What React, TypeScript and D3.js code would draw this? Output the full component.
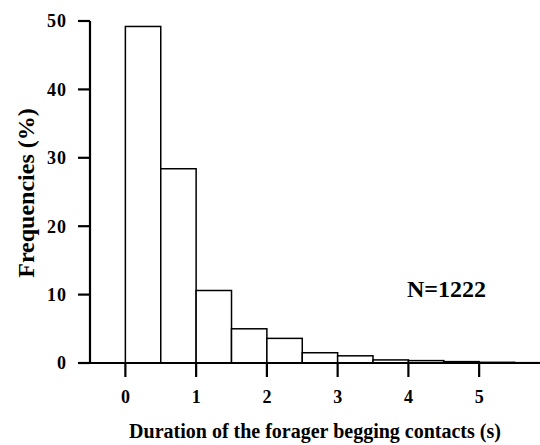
import { scaleLinear } from 'd3'

const binStarts = [-0.5, 0, 0.5, 1, 1.5, 2, 2.5, 3, 3.5, 4, 4.5, 5, 5.5]
const frequencies = [0, 49.2, 28.4, 10.6, 5.0, 3.6, 1.5, 1.05, 0.45, 0.35, 0.2, 0.1, 0.05]
const binWidth = 0.5
const xTicks = [0, 1, 2, 3, 4, 5]
const yTicks = [0, 10, 20, 30, 40, 50]

const width = 540
const height = 445
const font = "'Liberation Serif', 'Times New Roman', serif"

const x = scaleLinear().domain([-0.5, 5.86]).range([90, 540])
const y = scaleLinear().domain([0, 50]).range([363, 21])

function App() {
  return (
    <svg
      width={width}
      height={height}
      style={{ position: 'absolute', left: 0, top: 0, background: '#fff' }}
      fontFamily={font}
      fontWeight="bold"
    >
      {binStarts.map((b, i) => (
        <rect
          key={b}
          x={x(b)}
          y={y(frequencies[i])}
          width={x(b + binWidth) - x(b)}
          height={y(0) - y(frequencies[i])}
          fill="#fff"
          stroke="#000"
          strokeWidth={1.5}
        />
      ))}

      {/* y axis */}
      <line x1={x(-0.5)} x2={x(-0.5)} y1={y(50)} y2={y(0)} stroke="#000" strokeWidth={2.2} />
      {yTicks.map((t) => (
        <g key={t}>
          <line x1={78} x2={x(-0.5)} y1={y(t)} y2={y(t)} stroke="#000" strokeWidth={2.2} />
          <text x={67} y={y(t)} dy="0.35em" textAnchor="end" fontSize={18} letterSpacing={1}>
            {t}
          </text>
        </g>
      ))}

      {/* x axis */}
      <line x1={78} x2={width} y1={y(0)} y2={y(0)} stroke="#000" strokeWidth={2.2} />
      {xTicks.map((t) => (
        <g key={t}>
          <line x1={x(t)} x2={x(t)} y1={y(0)} y2={y(0) + 14} stroke="#000" strokeWidth={2.2} />
          <text x={x(t)} y={403} textAnchor="middle" fontSize={18}>
            {t}
          </text>
        </g>
      ))}

      <text x={315} y={438} textAnchor="middle" fontSize={20}>
        Duration of the forager begging contacts (s)
      </text>
      <text
        transform="translate(34,193) rotate(-90)"
        textAnchor="middle"
        fontSize={24}
      >
        Frequencies (%)
      </text>
      <text x={407} y={297} fontSize={24}>
        N=1222
      </text>
    </svg>
  )
}

export default App
